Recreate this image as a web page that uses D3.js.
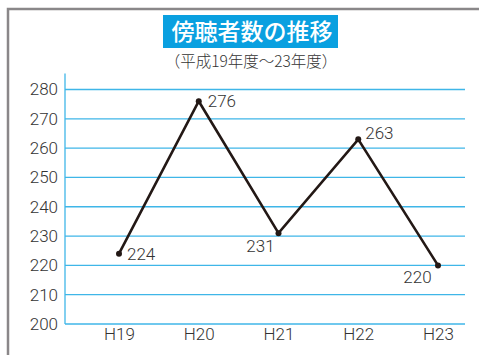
<!DOCTYPE html>
<html><head><meta charset="utf-8">
<script src="https://cdn.jsdelivr.net/npm/d3@7"></script>
<style>body{margin:0;background:#fff}svg{display:block}</style>
</head><body>
<script>
const categories = ["H19","H20","H21","H22","H23"];
const values = [224, 276, 231, 263, 220];
const yTicks = [200,210,220,230,240,250,260,270,280];
const title = "傍聴者数の推移";
const subtitle = "（平成19年度～23年度）";
// label offsets per point (dx, dy, anchor)
const labelPos = [[8,6,"start"],[9,6,"start"],[-18,19,"middle"],[7,0,"start"],[-20.5,17.5,"middle"]];

const W = 479, H = 355;
const svg = d3.select("body").append("svg").attr("width", W).attr("height", H);
const font = "Roboto, 'Liberation Sans', Arial, sans-serif";
const fw = 300;
const cjk = "'Noto Sans CJK JP', sans-serif";

// frame
svg.append("path").attr("d", `M8,${H} V9 H${W}`).attr("fill","none").attr("stroke","#8a8789").attr("stroke-width",2.5);

const x = d3.scalePoint().domain(categories).range([119, 438]);
const y = d3.scaleLinear().domain([200, 280]).range([324, 89.5]);

// grid
const grid = svg.append("g");
grid.selectAll("line").data(yTicks).join("line")
  .attr("x1", 65).attr("x2", 465)
  .attr("y1", d => y(d)).attr("y2", d => y(d))
  .attr("stroke", "#3fb6e8").attr("stroke-width", 1.3);

// y axis
const yAxis = d3.axisLeft(y).tickValues(yTicks).tickSize(0).tickPadding(7);
const gy = svg.append("g").attr("transform", "translate(65,0)").call(yAxis);
gy.select(".domain").attr("stroke", "#3fb6e8").attr("stroke-width", 1.3).attr("d", `M0,${y(200)}V${y(280)-16}`);
gy.selectAll("text").attr("font-family", font).attr("font-weight", fw).attr("font-size", 17).attr("fill", "#333");

// x axis
const xAxis = d3.axisBottom(x).tickSize(0).tickPadding(4);
const gx = svg.append("g").attr("transform", `translate(0,${y(200)})`).call(xAxis);
gx.select(".domain").remove();
gx.selectAll("text").attr("font-family", font).attr("font-weight", fw).attr("font-size", 17).attr("fill", "#333");

// line
const line = d3.line().x((d,i) => x(categories[i])).y(d => y(d));
svg.append("path").datum(values).attr("d", line)
  .attr("fill","none").attr("stroke","#231815").attr("stroke-width",2.6).attr("stroke-linejoin","miter");
svg.selectAll("circle.pt").data(values).join("circle").attr("class","pt")
  .attr("cx",(d,i)=>x(categories[i])).attr("cy",d=>y(d)).attr("r",3).attr("fill","#231815");

// value labels
svg.selectAll("text.val").data(values).join("text").attr("class","val")
  .attr("x",(d,i)=>x(categories[i]) + labelPos[i][0])
  .attr("y",(d,i)=>y(d) + labelPos[i][1])
  .attr("text-anchor",(d,i)=>labelPos[i][2])
  .attr("font-family", font).attr("font-weight", fw).attr("font-size", 17).attr("fill","#333")
  .text(d=>d);

// title
svg.append("rect").attr("x",163).attr("y",15).attr("width",175).attr("height",33).attr("fill","#0aa0e0");
svg.append("text").attr("x",252).attr("y",40).attr("text-anchor","middle")
  .attr("font-family",cjk).attr("font-weight",500).attr("font-size",23).attr("fill","#fff").text(title);
svg.append("text").attr("x",251).attr("y",67).attr("text-anchor","middle")
  .attr("font-family",cjk).attr("font-weight",300).attr("font-size",15.5).attr("fill","#333").text(subtitle);
</script>
</body></html>
